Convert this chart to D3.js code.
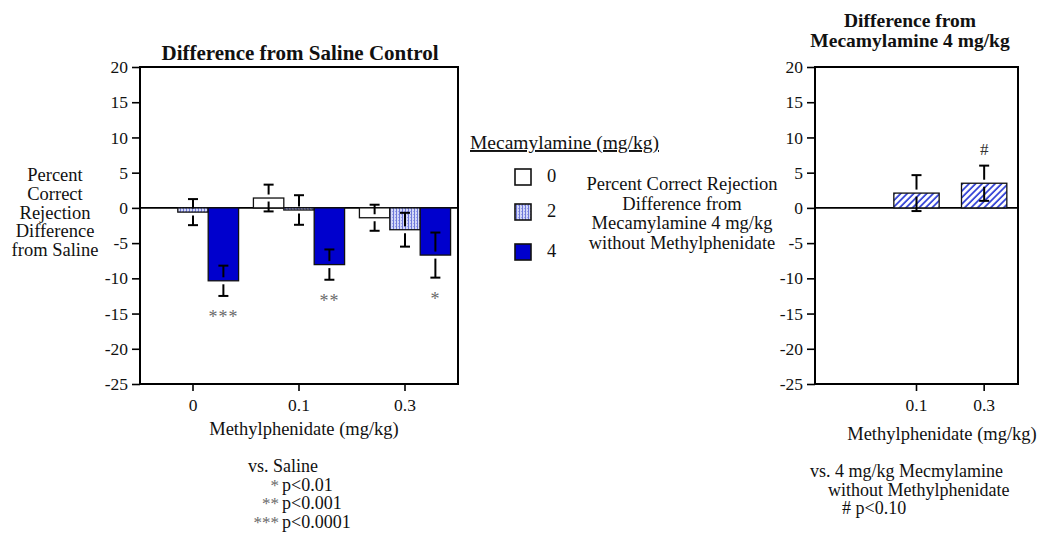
<!DOCTYPE html>
<html><head><meta charset="utf-8">
<script src="https://cdn.jsdelivr.net/npm/d3@7"></script>
<style>
body{margin:0;background:#fff}
svg{display:block}
</style>
</head><body><svg id="c" width="1041" height="533"></svg>
<script>
// ---- data ----
const groups = ["0", "0.1", "0.3"];              // Methylphenidate (mg/kg)
const mecDoses = ["0", "2", "4"];                // Mecamylamine (mg/kg)
const mec0 = [0, 1.4, -1.4];
const mec0Err = [0, 1.9, 1.85];
const mec2 = [-0.6, -0.3, -3.1];
const mec2Err = [1.85, 2.1, 2.4];
const mec4 = [-10.35, -8.05, -6.7];
const mec4Err = [2.15, 2.15, 3.2];
const mec4Sig = ["***", "**", "*"];
const rightGroups = ["0.1", "0.3"];
const rightVals = [2.1, 3.5];
const rightErr = [2.55, 2.5];
const rightSig = ["", "#"];
const yTicks = [-25, -20, -15, -10, -5, 0, 5, 10, 15, 20];

const FONT = "'Liberation Serif','Times New Roman',Times,'DejaVu Serif',serif";
const svg = d3.select("#c").attr("font-family", FONT);
const defs = svg.append("defs");

// stipple pattern for 2 mg/kg
const pStip = defs.append("pattern").attr("id", "stip").attr("patternUnits", "userSpaceOnUse")
  .attr("width", 3).attr("height", 3);
pStip.append("rect").attr("width", 3).attr("height", 3).attr("fill", "#d4d8f7");
pStip.append("rect").attr("x", 0).attr("width", 1).attr("height", 3).attr("fill", "#6f79da");
pStip.append("rect").attr("x", 2).attr("y", 1).attr("width", 1).attr("height", 1).attr("fill", "#9aa2e6");

// hatch pattern for right panel
const pHatch = defs.append("pattern").attr("id", "hatch").attr("patternUnits", "userSpaceOnUse")
  .attr("width", 4.6).attr("height", 4.6).attr("patternTransform", "rotate(45)");
pHatch.append("rect").attr("width", 4.6).attr("height", 4.6).attr("fill", "#fff");
pHatch.append("line").attr("x1", 1).attr("x2", 1).attr("y1", 0).attr("y2", 4.6)
  .attr("stroke", "#2b3bd4").attr("stroke-width", 1.7);

const fills = {"0": "#ffffff", "2": "url(#stip)", "4": "#0000cd"};

const yTop = 67, yBot = 384;
const y = d3.scaleLinear().domain([-25, 20]).range([yBot, yTop]);

function frame(x0, x1) {
  svg.append("rect").attr("x", x0).attr("y", yTop).attr("width", x1 - x0).attr("height", yBot - yTop)
    .attr("fill", "none").attr("stroke", "#000").attr("stroke-width", 2);
}
function yAxis(x0) {
  const g = svg.append("g").attr("transform", `translate(${x0},0)`)
    .call(d3.axisLeft(y).tickValues(yTicks).tickSize(8).tickPadding(4).tickFormat(d3.format("d")));
  g.select(".domain").remove();
  g.attr("font-family", FONT);
  g.selectAll(".tick line").attr("stroke", "#000").attr("stroke-width", 1.6);
  g.selectAll(".tick text").style("font-size", "17.5px").attr("fill", "#111")
    .text(d => d < 0 ? "-" + Math.abs(d) : d);
}
function xAxis(scale, vals) {
  const g = svg.append("g").attr("transform", `translate(0,${yBot})`)
    .call(d3.axisBottom(scale).tickValues(vals).tickSize(7).tickPadding(8));
  g.select(".domain").remove();
  g.attr("font-family", FONT);
  g.selectAll(".tick line").attr("stroke", "#000").attr("stroke-width", 1.6);
  g.selectAll(".tick text").style("font-size", "17.5px").attr("fill", "#111");
}
function zeroLine(x0, x1) {
  svg.append("line").attr("x1", x0).attr("x2", x1).attr("y1", y(0)).attr("y2", y(0))
    .attr("stroke", "#000").attr("stroke-width", 1.6);
}
function bar(cx, w, v, fill) {
  if (v === 0) return;
  svg.append("rect").attr("x", cx - w / 2).attr("width", w)
    .attr("y", y(Math.max(v, 0))).attr("height", Math.abs(y(v) - y(0)))
    .attr("fill", fill).attr("stroke", "#111").attr("stroke-width", 1.3);
}
function errBar(cx, v, e) {
  if (!e) return;
  const yU = y(v + e), yL = y(v - e), yE = y(v), gap = 3.5, cw = 10;
  const g = svg.append("g").attr("stroke", "#000").attr("stroke-width", 2);
  const segs = [[yU, yE - gap], [yE + gap, yL]];
  segs.forEach(([a, b]) => { if (b - a > 0.5) g.append("line").attr("x1", cx).attr("x2", cx).attr("y1", a).attr("y2", b); });
  [yU, yL].forEach(yy => g.append("line").attr("x1", cx - cw / 2).attr("x2", cx + cw / 2).attr("y1", yy).attr("y2", yy));
}
function lines(arr, x, y0, dy, size, anchor, weight) {
  const out = [];
  arr.forEach((s, i) => {
    const t = svg.append("text").attr("x", x).attr("y", y0 + i * dy)
      .attr("text-anchor", anchor || "middle").style("font-size", size + "px").attr("fill", "#111").text(s);
    if (weight) t.style("font-weight", weight);
    out.push(t);
  });
  return out;
}

// ---- left panel ----
const xL = d3.scaleBand().domain(groups).range([140, 458]).paddingInner(0.14).paddingOuter(0.07);
const xIn = d3.scaleBand().domain(mecDoses).range([0, xL.bandwidth()]);
const seriesVals = {"0": mec0, "2": mec2, "4": mec4};
const seriesErr = {"0": mec0Err, "2": mec2Err, "4": mec4Err};

zeroLine(140, 458);
groups.forEach((gname, gi) => {
  mecDoses.forEach(m => {
    const cx = xL(gname) + xIn(m) + xIn.bandwidth() / 2;
    bar(cx, xIn.bandwidth(), seriesVals[m][gi], fills[m]);
  });
});
groups.forEach((gname, gi) => {
  mecDoses.forEach(m => {
    const cx = xL(gname) + xIn(m) + xIn.bandwidth() / 2;
    errBar(cx, seriesVals[m][gi], seriesErr[m][gi]);
  });
  const cx4 = xL(gname) + xIn("4") + xIn.bandwidth() / 2;
  svg.append("text").attr("x", cx4).attr("y", y(mec4[gi] - mec4Err[gi]) + 27)
    .attr("text-anchor", "middle").style("font-size", "18px").attr("fill", "#6a6a6a")
    .style("letter-spacing", "1px").text(mec4Sig[gi]);
});
frame(140, 458);
yAxis(140);
xAxis(xL, groups);

lines(["Difference from Saline Control"], 300, 60, 0, 21, "middle", "bold");
lines(["Percent", "Correct", "Rejection", "Difference", "from Saline"], 55, 181, 18.8, 18.5);
lines(["Methylphenidate (mg/kg)"], 304, 435, 0, 18.5);
lines(["vs. Saline"], 248, 472, 0, 18, "start");
["*", "**", "***"].forEach((s, i) => {
  svg.append("text").attr("x", 279).attr("y", 491 + i * 18.3).attr("text-anchor", "end")
    .style("font-size", "17px").attr("fill", "#6a6a6a").text(s);
});
lines(["p<0.01", "p<0.001", "p<0.0001"], 282, 491, 18.3, 18, "start");

// legend
lines(["Mecamylamine (mg/kg)"], 470, 149, 0, 19.5, "start")[0].style("text-decoration", "underline");
const legTops = [169, 204, 244];
mecDoses.forEach((m, i) => {
  svg.append("rect").attr("x", 515).attr("y", legTops[i]).attr("width", 16).attr("height", 16)
    .attr("fill", fills[m]).attr("stroke", "#111").attr("stroke-width", 1.6);
  svg.append("text").attr("x", 547).attr("y", legTops[i] + 13).style("font-size", "18.5px").attr("fill", "#111").text(m);
});

// ---- right panel ----
const xR = d3.scaleBand().domain(["", ...rightGroups]).range([815, 1018]).paddingInner(0.33).paddingOuter(0.165);
zeroLine(815, 1018);
rightGroups.forEach((gname, i) => {
  const cx = xR(gname) + xR.bandwidth() / 2;
  bar(cx, xR.bandwidth(), rightVals[i], "url(#hatch)");
});
rightGroups.forEach((gname, i) => {
  const cx = xR(gname) + xR.bandwidth() / 2;
  errBar(cx, rightVals[i], rightErr[i]);
  if (rightSig[i]) svg.append("text").attr("x", cx).attr("y", y(rightVals[i] + rightErr[i]) - 11)
    .attr("text-anchor", "middle").style("font-size", "17px").attr("fill", "#333").text(rightSig[i]);
});
frame(815, 1018);
yAxis(815);
xAxis(xR, rightGroups);

lines(["Difference from", "Mecamylamine 4 mg/kg"], 910, 27, 19.5, 19.5, "middle", "bold");
lines(["Percent Correct Rejection", "Difference from", "Mecamylamine 4 mg/kg", "without Methylphenidate"], 682, 190, 19.7, 18.5);
lines(["Methylphenidate (mg/kg)"], 942, 440, 0, 18.5);
lines(["vs. 4 mg/kg Mecmylamine"], 810, 477, 0, 18, "start");
lines(["without Methylphenidate"], 828, 496, 0, 18, "start");
lines(["# p<0.10"], 842, 514, 0, 18, "start");
</script>
</body></html>
